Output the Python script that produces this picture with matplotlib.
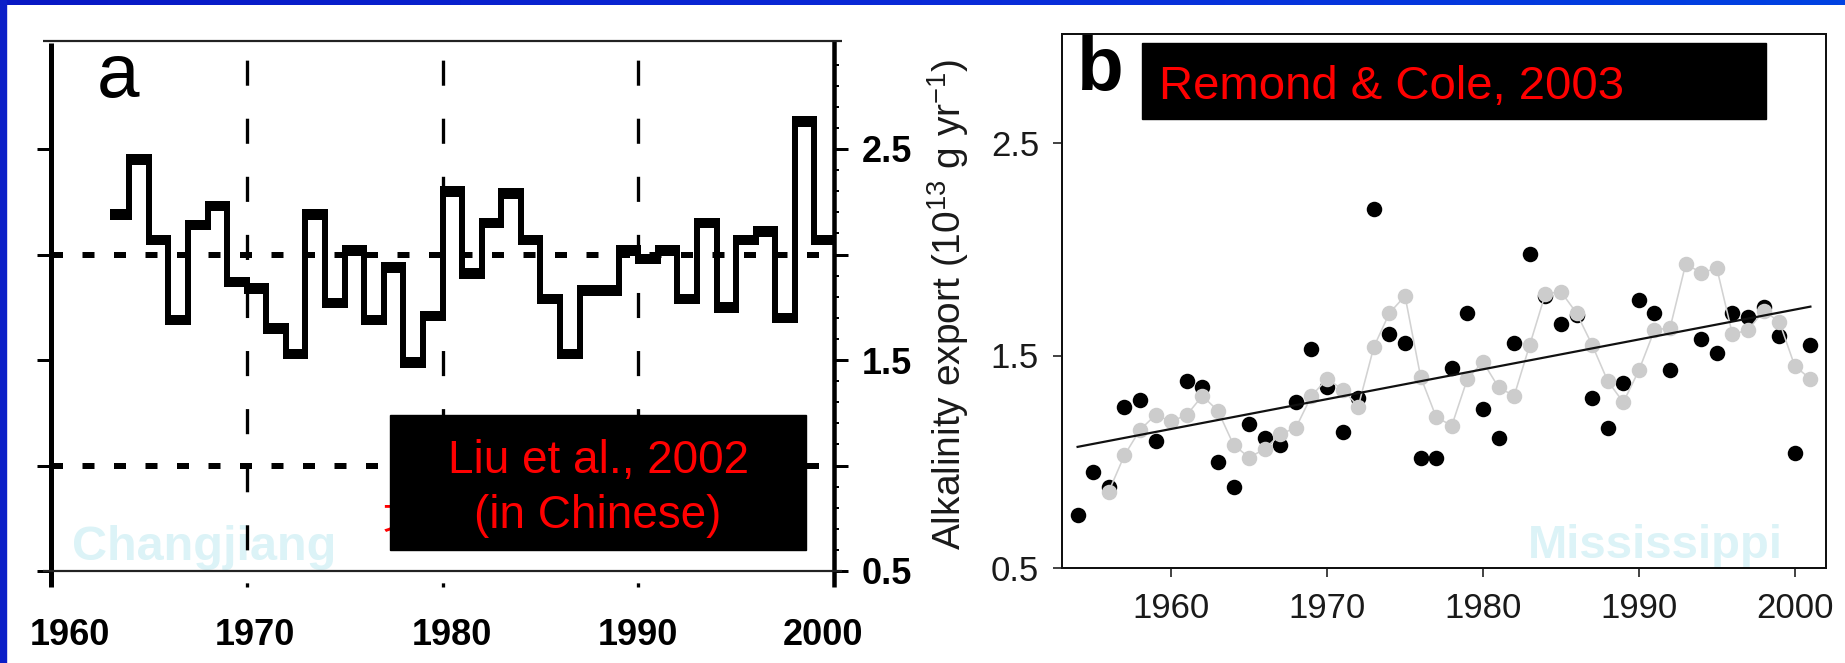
import numpy as np
import matplotlib
matplotlib.use("Agg")
import matplotlib.pyplot as plt
import matplotlib.patheffects as pe
from matplotlib.patches import Rectangle
from matplotlib.colors import LinearSegmentedColormap
from matplotlib.transforms import offset_copy

plt.rcParams['font.family'] = ['Liberation Sans', 'DejaVu Sans']
plt.rcParams['mathtext.fontset'] = 'custom'
plt.rcParams['mathtext.rm'] = 'Liberation Sans'
plt.rcParams['mathtext.it'] = 'Liberation Sans:italic'

W, H, DPI = 1845, 663, 100
PT = 72.0 / DPI          # points per pixel

# ---- panel a: Changjiang, annual values as steps (1963-1999)
cj_edges = np.arange(1963, 2001)
cj_values = [2.20, 2.46, 2.08, 1.70, 2.15, 2.24, 1.88, 1.85, 1.66, 1.54,
             2.20, 1.78, 2.03, 1.70, 1.95, 1.50, 1.72, 2.31, 1.92, 2.16,
             2.30, 2.08, 1.80, 1.54, 1.84, 1.84, 2.03, 1.99, 2.03, 1.80,
             2.16, 1.76, 2.08, 2.12, 1.71, 2.64, 2.08]
cj_levels = [2.0, 1.0]                 # dotted reference levels
cj_decades = [1970, 1980, 1990]        # dashed year markers
cj_xticks = [1960, 1970, 1980, 1990, 2000]
cj_yticks = [0.5, 1.0, 1.5, 2.0, 2.5]
cj_ylabels = ['0.5', '', '1.5', '', '2.5']

# ---- panel b: Mississippi alkalinity export
ms_years = np.arange(1954, 2002)
ms_black = [0.75, 0.95, 0.88, 1.26, 1.29, 1.10, np.nan, 1.38, 1.35, 1.00,
            0.88, 1.18, 1.11, 1.08, 1.28, 1.53, 1.35, 1.14, 1.30, 2.19,
            1.60, 1.56, 1.02, 1.02, 1.44, 1.70, 1.25, 1.11, 1.56, 1.98,
            1.78, 1.65, 1.69, 1.30, 1.16, 1.37, 1.76, 1.70, 1.43, np.nan,
            1.58, 1.51, 1.70, 1.68, 1.73, 1.59, 1.04, 1.55]
grey_years = np.arange(1956, 2002)
grey_values = [0.86, 1.03, 1.15, 1.22, 1.19, 1.22, 1.31, 1.24, 1.08, 1.02,
               1.06, 1.13, 1.16, 1.31, 1.39, 1.34, 1.26, 1.54, 1.70, 1.78,
               1.40, 1.21, 1.17, 1.39, 1.47, 1.35, 1.31, 1.55, 1.79, 1.80,
               1.70, 1.55, 1.38, 1.28, 1.43, 1.62, 1.63, 1.93, 1.89, 1.91,
               1.60, 1.62, 1.71, 1.66, 1.45, 1.39]
trend_years = [1954, 2001]
trend_values = [1.07, 1.73]
ms_xticks = [1960, 1970, 1980, 1990, 2000]
ms_yticks = [0.5, 1.5, 2.5]


def fx(px):
    return px / W


def fy(py):
    return 1 - py / H


fig = plt.figure(figsize=(W / DPI, H / DPI), dpi=DPI)
fig.patch.set_facecolor('white')

# ================= panel a =================
ax_a = fig.add_axes([fx(51), fy(571), 783 / W, 530 / H])
ya0, ya1 = 0.5, 0.5 + 530 / 211
ax_a.set_xlim(1960, 2000)
ax_a.set_ylim(ya0, ya1)
for s in ax_a.spines.values():
    s.set_visible(False)

# frame drawn by hand so the side bars run past the bottom line
ext_y = 16 / 211
ext_x = 8 / 19.575
ax_a.plot([1960, 1960], [ya0 - ext_y, ya1 - 2 / 211], color='black', lw=5 * PT,
          clip_on=False, solid_capstyle='butt', zorder=6)
ax_a.plot([2000, 2000], [ya0 - ext_y, ya1], color='black', lw=4.5 * PT,
          clip_on=False, solid_capstyle='butt', zorder=6)
for yy in (ya0, ya1):
    ax_a.plot([1960 - ext_x, 2000 + ext_x], [yy, yy], color='#222222', lw=2.2 * PT,
              clip_on=False, solid_capstyle='butt', zorder=6)

# dotted reference levels
for lev in cj_levels:
    ax_a.plot([1960, 2000], [lev, lev], color='black', lw=6 * PT,
              dashes=(2.0, 3.25), solid_capstyle='butt', zorder=2)

# dashed decade markers
for yr in cj_decades:
    ax_a.plot([yr, yr], [ya1, ya0 - ext_y], color='black', lw=3.3 * PT,
              linestyle=(11.8, (7.6, 10.0)), clip_on=False, zorder=2)

ax_a.stairs(cj_values, cj_edges, baseline=None, color='black', lw=6 * PT,
            joinstyle='miter', zorder=3,
            path_effects=[pe.Stroke(linewidth=6 * PT, foreground='black',
                                    offset=(0, -4.5 * PT)), pe.Normal()])

ax_a.set_xticks(cj_xticks, [''] * len(cj_xticks))
ax_a.tick_params(axis='x', length=0)
label_dx = [19, 8, 9, 0, -11]
for yr, dx in zip(cj_xticks, label_dx):
    tr = offset_copy(ax_a.get_xaxis_transform(), fig=fig, x=dx, y=0, units='dots')
    ax_a.text(yr, (571 - 645) / 530, str(yr), transform=tr, ha='center',
              va='baseline', fontsize=26, fontweight='bold', clip_on=False)

ax_a.set_yticks(cj_yticks, cj_ylabels)
ax_a.set_yticks(np.arange(0.6, 3.0, 0.1), minor=True)
ax_a.tick_params(axis='y', which='major', left=True, right=True, labelleft=False,
                 labelright=True, direction='inout', length=14 * PT, width=3 * PT,
                 pad=10, labelsize=26)
ax_a.tick_params(axis='y', which='major', right=True, direction='out')
ax_a.tick_params(axis='y', which='minor', left=False, right=True, direction='out',
                 length=5 * PT, width=2 * PT)
for lbl in ax_a.get_yticklabels():
    lbl.set_fontweight('bold')

ax_a.text(fx(72), fy(560), 'Changjiang', transform=fig.transFigure, fontsize=35,
          fontweight='bold', color='#dcf3f7', ha='left', va='baseline', zorder=0.5)

fig.text(fx(97), fy(97), 'a', fontsize=55, ha='left', va='baseline')

# red character partly hidden behind the citation box
fig.text(fx(401), fy(519), '文', fontsize=26, color='red', ha='center', va='center',
         family=['Noto Sans CJK SC', 'DejaVu Sans'], zorder=4)
fig.add_artist(Rectangle((fx(390), fy(550)), 416 / W, 135 / H,
                         transform=fig.transFigure, color='black', zorder=5))
fig.text(fx(598), fy(473), 'Liu et al., 2002', fontsize=33, color='red',
         ha='center', va='baseline', zorder=6)
fig.text(fx(598), fy(528), '(in Chinese)', fontsize=33, color='red',
         ha='center', va='baseline', zorder=6)

# ================= panel b =================
ax_b = fig.add_axes([fx(1062), fy(568), 764 / W, 534 / H])
ax_b.set_xlim(1953, 2002)
ax_b.set_ylim(0.5, 0.5 + 534 / 212.5)
for s in ax_b.spines.values():
    s.set_linewidth(2 * PT)
    s.set_color('#111111')

ax_b.plot(ms_years, ms_black, 'o', color='black', ms=15.5 * PT, mec='none', zorder=2)
ax_b.plot(grey_years, grey_values, '-', color='#d2d2d2', lw=1.6 * PT, zorder=3)
ax_b.plot(grey_years, grey_values, 'o', color='#cccccc', ms=15.5 * PT, mec='none', zorder=4)
ax_b.plot(trend_years, trend_values, '-', color='#111111', lw=2.2 * PT, zorder=5)

ax_b.set_xticks(ms_xticks, [str(y) for y in ms_xticks])
ax_b.set_yticks(ms_yticks, [str(v) for v in ms_yticks])
ax_b.tick_params(axis='both', direction='out', length=9 * PT, width=1.6 * PT,
                 labelsize=25, colors='#1a1a1a')
ax_b.tick_params(axis='x', pad=11)
ax_b.tick_params(axis='y', pad=10)

ax_b.text(fx(1528), fy(558), 'Mississippi', transform=fig.transFigure, fontsize=34,
          fontweight='bold', color='#dcf3f7', ha='left', va='baseline', zorder=0.5)

fig.text(fx(948), fy(304), r'Alkalinity export (10$^{13}$ g yr$^{-1}$)',
         rotation=90, ha='center', va='center', fontsize=28, color='#1a1a1a')

fig.text(fx(1077), fy(90), 'b', fontsize=55, fontweight='bold', ha='left', va='baseline')
fig.add_artist(Rectangle((fx(1142), fy(119)), 624 / W, 76 / H,
                         transform=fig.transFigure, color='black', zorder=5))
fig.text(fx(1159), fy(99), 'Remond & Cole, 2003', fontsize=34, color='red',
         ha='left', va='baseline', zorder=6)

# ================= slide border =================
top = fig.add_axes([0, fy(5), 1, 5 / H])
top.imshow(np.linspace(0, 1, 256)[None, :], aspect='auto',
           cmap=LinearSegmentedColormap.from_list('band', ['#0818c4', '#0a2ad8', '#0042e2']))
top.axis('off')
fig.add_artist(Rectangle((0, 0), 6 / W, 1, transform=fig.transFigure,
                         color='#0b1fc8', zorder=10))

fig.savefig('out.png', dpi=DPI)
